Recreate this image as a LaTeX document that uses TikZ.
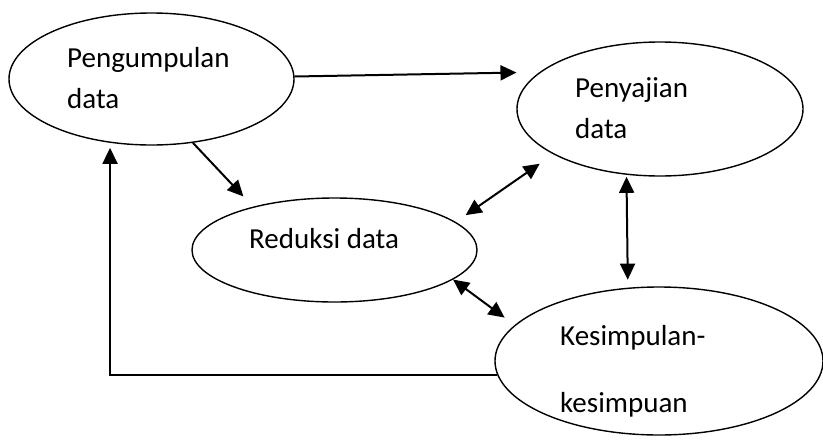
\documentclass[tikz,border=0pt]{standalone}
\usepackage{fontspec}
\setmainfont{Carlito}
\usetikzlibrary{shapes.geometric, arrows.meta}

\tikzset{
    oval/.style={draw, ellipse, line width=1.4pt, inner sep=0pt},
    lbl/.style={anchor=base west, inner sep=0pt, font=\fontsize{29}{33}\selectfont},
    arr/.style={line width=2pt, -{Triangle[length=16pt, width=15pt]}},
    darr/.style={line width=2pt, {Triangle[length=16pt, width=15pt]}-{Triangle[length=16pt, width=15pt]}}
}

\begin{document}
\begin{tikzpicture}[x=1pt, y=-1pt]
                        \useasboundingbox (0, 0) rectangle (823, 445);

                        \node[oval, minimum width=285pt, minimum height=132pt] (pengumpulan) at (151.5, 79) {};
                        \node[oval, minimum width=286pt, minimum height=134pt] (penyajian) at (660, 109) {};
                        \node[oval, minimum width=285pt, minimum height=104pt] (reduksi) at (334.5, 250) {};
                        \node[oval, minimum width=328pt, minimum height=148pt] (kesimpulan) at (659, 361) {};

                        \node[lbl] (pengumpulanA) at (67, 67) {Pengumpulan};
                        \node[lbl] (pengumpulanB) at (67, 108) {data};
                        \node[lbl] (penyajianA) at (575, 97) {Penyajian};
                        \node[lbl] (penyajianB) at (575, 138) {data};
                        \node[lbl] (reduksiA) at (249, 248) {Reduksi data};
                        \node[lbl] (kesimpulanA) at (560, 345) {Kesimpulan-};
                        \node[lbl] (kesimpulanB) at (560, 412) {kesimpuan};

                        \draw[arr, shorten >=23pt]
                        (pengumpulan.1.6) -- (penyajian.163);

                        \draw[arr, shorten >=14pt]
                        (pengumpulan.-57.5) -- (reduksi.152);

                        \draw[darr, shorten <=12pt, shorten >=16.5pt]
                        (reduksi.13) -- (penyajian.-157);

                        \draw[darr, shorten <=2pt, shorten >=8pt]
                        (penyajian.243.9) -- (kesimpulan.113.1);

                        \draw[darr, shorten >=12.5pt]
                        (reduksi.-14.4) -- (kesimpulan.166.1);

                        \draw[arr, shorten >=5pt]
                        (kesimpulan.185.5) -| (pengumpulan.-123.3);
                    \end{tikzpicture}
\end{document}
